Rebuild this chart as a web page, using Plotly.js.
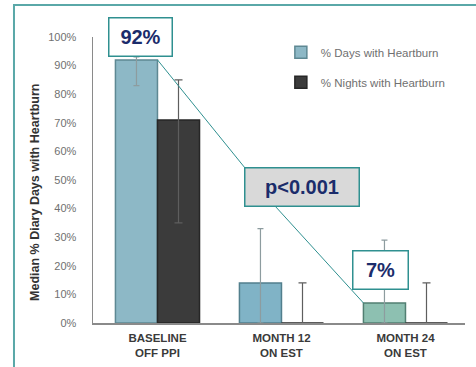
<!DOCTYPE html>
<html>
<head>
<meta charset="utf-8">
<script src="https://cdn.plot.ly/plotly-3.0.1.min.js"></script>
<style>
  html, body { margin: 0; padding: 0; background: #ffffff; }
  #chart { width: 476px; height: 367px; }
</style>
</head>
<body>
<div id="chart"></div>
<script>
// Median share of diary days / nights with heartburn, by visit
const categories = ['BASELINE<br>OFF PPI', 'MONTH 12<br>ON EST', 'MONTH 24<br>ON EST'];
const seriesNames = ['% Days with Heartburn', '% Nights with Heartburn'];
const daysValues = [92, 14, 7];
const nightsValues = [71, 0, 0];
const daysErrPlus = [1, 19, 22];
const daysErrMinus = [9, 14, 7];
const nightsErrPlus = [14, 14, 14];
const nightsErrMinus = [36, 0, 0];
const tickValues = [0, 10, 20, 30, 40, 50, 60, 70, 80, 90, 100];
const tickLabels = tickValues.map(v => v + '%');
const yTitle = 'Median % Diary Days with Heartburn';
const pValueText = 'p<0.001';

const navy = '#1b2c6b';
const teal = '#2f9090';
const barWidth = 0.339;
const sans = 'Liberation Sans, Arial, sans-serif';

const days = {
  type: 'bar',
  name: seriesNames[0],
  legendgroup: 'days',
  x: categories,
  y: daysValues,
  marker: {
    color: ['#8db8c6', '#80b3c6', '#8dc0b1'],
    line: { color: ['#5e8893', '#527f8d', '#527f72'], width: 1.5 }
  },
  error_y: {
    type: 'data', symmetric: false,
    array: daysErrPlus, arrayminus: daysErrMinus,
    color: '#8d9c9f', thickness: 1.2, width: 3
  },
  hoverinfo: 'skip'
};

const nights = {
  type: 'bar',
  name: seriesNames[1],
  legendgroup: 'nights',
  x: categories,
  y: nightsValues,
  marker: { color: '#3b3b3b', line: { color: '#262626', width: 1.5 } },
  error_y: {
    type: 'data', symmetric: false,
    array: nightsErrPlus, arrayminus: nightsErrMinus,
    color: '#5e5e5e', thickness: 1.2, width: 4
  },
  hoverinfo: 'skip'
};

const boxFont = { family: sans, size: 20, color: navy };

const layout = {
  width: 476,
  height: 367,
  margin: { l: 93, r: 11, t: 37, b: 44 },
  paper_bgcolor: '#ffffff',
  plot_bgcolor: 'rgba(0,0,0,0)',
  barmode: 'group',
  bargap: 0.322,
  bargroupgap: 0,
  showlegend: true,
  legend: {
    x: 0.505, y: 0.997, xanchor: 'left', yanchor: 'top',
    bgcolor: 'rgba(0,0,0,0)',
    font: { family: sans, size: 11.5, color: '#707070' },
    tracegroupgap: 11,
    itemwidth: 30
  },
  xaxis: {
    type: 'category',
    range: [-0.52, 2.48],
    showline: true, linecolor: '#8a8a8a', linewidth: 1.5,
    ticks: '', showgrid: false, zeroline: false,
    ticklabelstandoff: 4,
    tickfont: { family: sans, size: 11.5, color: '#3a3a3a', weight: 'bold' }
  },
  yaxis: {
    range: [0, 100],
    tickvals: tickValues,
    ticktext: tickLabels,
    showline: true, linecolor: '#8a8a8a', linewidth: 1.5,
    ticks: '', ticklabelstandoff: 13,
    showgrid: false, zeroline: false,
    tickfont: { family: sans, size: 11, color: '#707070' }
  },
  shapes: [
    // outer frame
    { type: 'rect', xref: 'paper', yref: 'paper', x0: -0.2124, x1: 1.2, y0: -0.3, y1: 1.1119,
      line: { color: '#5aa8a8', width: 2 }, layer: 'below' },
    // connector: baseline bar top -> p-value box
    { type: 'line', xref: 'x', yref: 'y', x0: 0, y0: daysValues[0], x1: 0.706, y1: 54.2,
      line: { color: teal, width: 1 } },
    // connector: p-value box -> month 24 bar top
    { type: 'line', xref: 'x', yref: 'y', x0: 0.948, y0: 40.9, x1: 2 - barWidth, y1: daysValues[2],
      line: { color: teal, width: 1 } }
  ],
  annotations: [
    // y-axis title, placed slightly below the plot-area centre
    { xref: 'paper', yref: 'paper', x: -0.156, y: 0.458, xanchor: 'center', yanchor: 'middle',
      text: '<b>' + yTitle + '</b>', textangle: -90, showarrow: false,
      font: { family: sans, size: 12.5, color: '#333333' } },
    { xref: 'x', yref: 'paper', x: -0.141, y: 1.0017, xanchor: 'center', yanchor: 'middle',
      text: '<b>' + daysValues[0] + '%</b>',
      showarrow: false, font: boxFont, bgcolor: '#ffffff', bordercolor: teal, borderwidth: 1.5,
      borderpad: 0, width: 62, height: 37 },
    { xref: 'x', yref: 'y', x: 1.165, y: 47.7, xanchor: 'center', yanchor: 'middle',
      text: '<b>' + pValueText + '</b>',
      showarrow: false, font: boxFont, bgcolor: '#d9d9d9', bordercolor: teal, borderwidth: 1.5,
      borderpad: 0, width: 113, height: 37 },
    { xref: 'x', yref: 'y', x: 1.795, y: 18.4, xanchor: 'center', yanchor: 'middle',
      text: '<b>' + daysValues[2] + '%</b>',
      showarrow: false, font: boxFont, bgcolor: '#ffffff', bordercolor: teal, borderwidth: 1.5,
      borderpad: 0, width: 54, height: 37 }
  ]
};

Plotly.newPlot('chart', [days, nights], layout, { displayModeBar: false, staticPlot: true });
</script>
</body>
</html>
